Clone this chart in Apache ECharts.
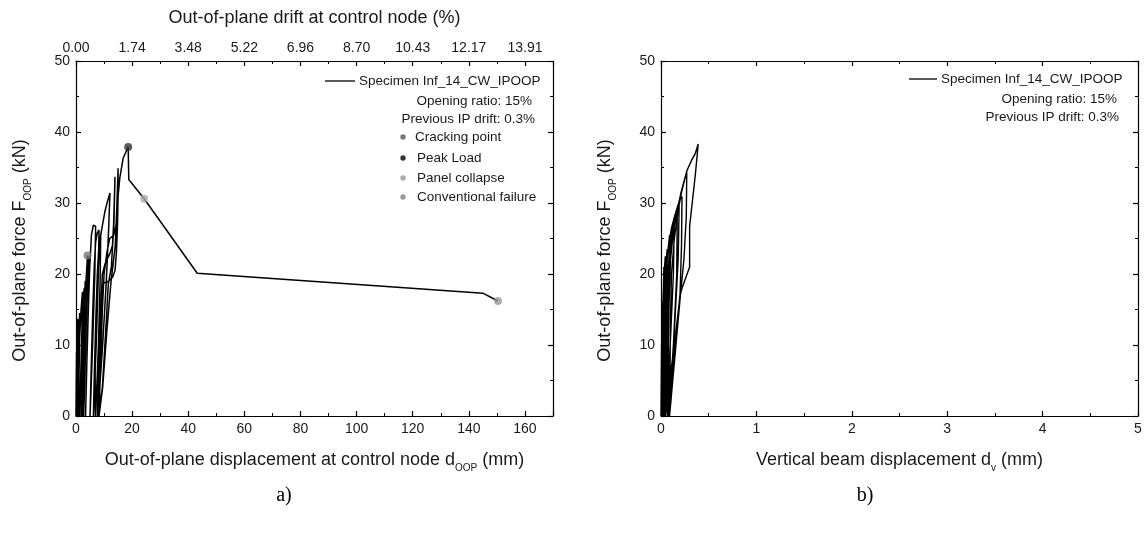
<!DOCTYPE html>
<html>
<head>
<meta charset="utf-8">
<script src="https://cdn.jsdelivr.net/npm/echarts@6/dist/echarts.min.js"></script>
<style>
html,body{margin:0;padding:0;background:#fff;}
#chart{width:1146px;height:534px;}
</style>
</head>
<body>
<div id="chart"></div>
<script>
// ---------- DATA ----------
// a) Out-of-plane force vs out-of-plane displacement (mm, kN), one continuous path
const oopHysteresis = [
  [0,0],[0.1,5],[0.2,9],[0.15,4],[0.1,0],
  [0.2,5],[0.35,10],[0.45,12],[0.35,5],[0.25,0],
  [0.2,4],[0.4,9],[0.6,13.7],[0.5,8],[0.4,3],[0.3,0],
  [0.5,5],[0.7,10],[0.9,13.5],[0.8,8],[0.6,2],[0.5,0],
  [0.7,6],[1.0,11],[1.3,14.5],[1.2,9],[1.0,3],[0.8,0],
  [0.9,6],[1.3,11],[1.8,15],[2.3,17.5],[2.1,12],[1.7,6],[1.3,0],
  [1.7,6],[2.1,11],[2.5,15],[2.9,18],[2.7,12],[2.2,5],[1.9,0],
  [2.1,6],[2.5,12],[3.0,16.5],[3.3,19],[3.1,13],[2.7,6],[2.3,0],
  [2.4,7],[2.9,13],[3.5,18.5],[4.1,22.6],[3.9,17],[3.4,9],[2.9,2],[2.7,0],
  [3.1,7],[3.6,14],[4.1,19.5],[4.6,22.5],[4.4,16],[3.9,8],[3.4,0],
  [3.9,8],[4.4,15],[4.9,21],[5.5,25.5],[6.2,26.9],[7.0,26.7],[6.7,20],[6.0,11],[5.3,3],[5.0,0],
  [5.5,8],[6.0,15],[6.5,21],[7.0,24.5],[7.6,25.8],[8.2,26.2],[7.9,19],[7.2,10],[6.4,2],[6.2,0],
  [6.6,7],[7.1,14],[7.6,20],[8.1,23.5],[8.8,25.5],[8.6,19],[8.0,10],[7.2,2],[6.9,0],
  [6.8,8],[7.4,15],[8.0,21],[8.6,25],[9.4,26.8],[10.3,28.8],[11.2,30.2],[12.1,31.4],[11.6,26],[10.8,19],[9.5,10],[8.1,2],[7.6,0],
  [8.2,8],[8.8,15],[9.4,20],[10.4,21.5],[12.0,22.8],[13.0,24.0],[13.4,27],[13.7,31],[13.9,33.7],[13.5,27],[12.6,21],[11.5,18.5],[10.6,12],[9.4,4],[8.0,0],
  [8.6,8],[9.2,15],[9.8,18.7],[11.5,19.0],[13.0,19.5],[13.9,20.5],[14.4,23],[14.8,27],[15.0,31],[15.0,34.9],[14.6,30],[14.0,24],[12.5,19],[11,12],[9.5,4],[8.2,0],
  [8.8,8],[9.4,15],[10.0,20],[11.0,23],[12.0,25],[13.5,25.5],[14.3,27],[14.8,30],[15.6,33.5],[16.8,36.3],[18.6,37.9],
  [18.8,33.3],[24.3,30.6],[43.2,20.1],[145,17.3],[150.4,16.2]
];
const crackingPoint = [[4.1,22.6]];
const peakLoad = [[18.6,37.9]];
const panelCollapse = [[24.3,30.6]];
const conventionalFailure = [[150.4,16.2]];

// b) Out-of-plane force vs vertical beam displacement (mm, kN)
const vertHysteresis = [
  [0,0],[0.003,5],[0.006,10],[0.004,4],[0.002,0],
  [0.004,6],[0.008,12],[0.01,16],[0.008,9],[0.005,0],
  [0.005,6],[0.01,12],[0.015,14],[0.012,8],[0.008,0],
  [0.012,8],[0.018,15],[0.025,18],[0.02,10],[0.015,2],[0.012,0],
  [0.015,8],[0.02,15],[0.028,19.5],[0.03,21],[0.026,12],[0.02,4],[0.016,0],
  [0.018,9],[0.025,16],[0.032,20],[0.045,22.5],[0.04,15],[0.03,6],[0.022,0],
  [0.028,9],[0.035,16],[0.045,20.5],[0.065,23.5],[0.06,14],[0.045,4],[0.035,0],
  [0.03,8],[0.037,15],[0.05,20.5],[0.07,23],[0.09,25.5],[0.085,17],[0.065,7],[0.045,0],
  [0.04,9],[0.05,17],[0.06,21],[0.08,24],[0.11,26.5],[0.14,28],[0.13,20],[0.1,11],[0.07,3],[0.05,0],
  [0.055,9],[0.065,17],[0.08,21.5],[0.1,24.5],[0.13,27],[0.17,28.5],[0.165,20],[0.13,10],[0.09,2],[0.07,0],
  [0.058,8],[0.068,16],[0.085,22],[0.11,25.5],[0.14,28],[0.18,29.8],[0.19,29.5],[0.18,22],[0.14,12],[0.1,3],[0.08,0],
  [0.065,8],[0.075,16],[0.09,21],[0.12,25.5],[0.16,28.5],[0.2,30.5],[0.22,30.9],[0.215,24],[0.2,17.3],[0.15,10],[0.11,4],[0.09,0],
  [0.075,8],[0.085,16],[0.1,22],[0.13,26],[0.17,29],[0.21,31.5],[0.25,33.5],[0.27,34.4],[0.265,28],[0.24,22],[0.2,16.5],[0.15,9],[0.11,3],[0.09,0],
  [0.095,7],[0.1,14],[0.11,20],[0.14,25],[0.18,29],[0.22,31.8],[0.27,34.5],[0.32,36],[0.36,37],[0.39,38.3],
  [0.36,34],[0.30,26.7],[0.30,21],[0.22,18],[0.2,17],[0.14,10],[0.1,6],[0.08,0]
];

// tick labels of the top (drift) axis, one per 20 mm
const driftTickLabels = ['0.00','1.74','3.48','5.22','6.96','8.70','10.43','12.17','13.91'];

// legend texts
const specimenName = 'Specimen Inf_14_CW_IPOOP';
const infoLines = ['Opening ratio: 15%', 'Previous IP drift: 0.3%'];
const markerNames = ['Cracking point','Peak Load','Panel collapse','Conventional failure'];
const markerColors = ['#777777','#333333','#aaaaaa','#999999'];

// ---------- CHART ----------
const FONT = 'Liberation Sans, Arial, sans-serif';
const TXT = '#1a1a1a';
const chart = echarts.init(document.getElementById('chart'), null, {renderer:'canvas'});

const subRich = {sub:{fontSize:10, fontFamily:FONT, color:TXT, verticalAlign:'bottom', lineHeight:26}};

function baseAxis(extra){
  return Object.assign({
    type:'value',
    axisLine:{show:true, onZero:false, lineStyle:{color:'#000', width:1.2}},
    axisTick:{show:true, inside:true, length:5, lineStyle:{color:'#000', width:1.2}},
    minorTick:{show:true, splitNumber:2, length:3, lineStyle:{color:'#000', width:1}},
    splitLine:{show:false},
    axisLabel:{show:true, color:TXT, fontSize:14, fontFamily:FONT, margin:6},
    nameLocation:'middle',
    nameTextStyle:{color:TXT, fontSize:18, fontFamily:FONT, lineHeight:26, rich:subRich}
  }, extra);
}

const xAxes = [
  baseAxis({gridIndex:0, position:'bottom', min:0, max:170, interval:20,
    axisLabel:{color:TXT, fontSize:14, fontFamily:FONT, margin:6, showMaxLabel:false},
    name:'Out-of-plane displacement at control node d{sub|OOP} (mm)', nameGap:31}),
  baseAxis({gridIndex:0, position:'top', min:0, max:170, interval:20,
    axisLabel:{color:TXT, fontSize:14, fontFamily:FONT, margin:6, showMaxLabel:false,
      formatter:function(v){ const i = Math.round(v/20); return (Math.abs(v - i*20) < 1e-6 && driftTickLabels[i]) ? driftTickLabels[i] : ''; }},
    name:'Out-of-plane drift at control node (%)', nameGap:34,
    nameTextStyle:{color:TXT, fontSize:18, fontFamily:FONT}}),
  baseAxis({gridIndex:1, position:'bottom', min:0, max:5, interval:1,
    name:'Vertical beam displacement d{sub|v} (mm)', nameGap:31}),
  baseAxis({gridIndex:1, position:'top', min:0, max:5, interval:1, axisLabel:{show:false}})
];
const yNameStyle = {color:TXT, fontSize:18, fontFamily:FONT, lineHeight:26, rich:subRich, padding:[0,24,0,0]};
const yAxes = [
  baseAxis({gridIndex:0, position:'left', min:0, max:50, interval:10,
    name:'Out-of-plane force F{sub|OOP} (kN)', nameGap:43, nameTextStyle:yNameStyle}),
  baseAxis({gridIndex:0, position:'right', min:0, max:50, interval:10, axisLabel:{show:false}}),
  baseAxis({gridIndex:1, position:'left', min:0, max:50, interval:10,
    name:'Out-of-plane force F{sub|OOP} (kN)', nameGap:43, nameTextStyle:yNameStyle}),
  baseAxis({gridIndex:1, position:'right', min:0, max:50, interval:10, axisLabel:{show:false}})
];

function markerSeries(data, color){
  return {type:'scatter', xAxisIndex:0, yAxisIndex:0, data:data, symbol:'circle', symbolSize:8,
    itemStyle:{color:color}, z:5, silent:true};
}

// legend graphics
const LFONT = '13.5px ' + FONT;
const graphics = [];
function addLegend(lineX0, lineX1, lineY, infoRights, infoYs){
  graphics.push({type:'line', shape:{x1:lineX0, y1:lineY, x2:lineX1, y2:lineY}, style:{stroke:'#000', lineWidth:1.3}});
  graphics.push({type:'text', x:lineX1+4, y:lineY, style:{text:specimenName, fill:TXT, font:LFONT, textAlign:'left', textVerticalAlign:'middle'}});
  infoLines.forEach(function(t,i){
    graphics.push({type:'text', x:infoRights[i], y:infoYs[i], style:{text:t, fill:TXT, font:LFONT, textAlign:'right', textVerticalAlign:'middle'}});
  });
}
addLegend(325, 355, 81, [532, 535], [101, 119]);
addLegend(909, 937, 79, [1117, 1119], [99, 117]);
const markerYs = [137, 158, 178, 197];
const markerTextX = [415, 417, 417, 417];
markerNames.forEach(function(n,i){
  graphics.push({type:'circle', shape:{cx:403, cy:markerYs[i], r:2.7}, style:{fill:markerColors[i]}});
  graphics.push({type:'text', x:markerTextX[i], y:markerYs[i], style:{text:n, fill:TXT, font:LFONT, textAlign:'left', textVerticalAlign:'middle'}});
});
graphics.push({type:'text', x:284, y:496, style:{text:'a)', fill:'#000', font:'20px Liberation Serif, Times New Roman, serif', textAlign:'center', textVerticalAlign:'middle'}});
graphics.push({type:'text', x:865, y:496, style:{text:'b)', fill:'#000', font:'20px Liberation Serif, Times New Roman, serif', textAlign:'center', textVerticalAlign:'middle'}});

chart.setOption({
  backgroundColor:'#fff',
  animation:false,
  textStyle:{fontFamily:FONT},
  grid:[
    {left:76, top:61, width:477, height:355, containLabel:false, outerBoundsMode:'none'},
    {left:661, top:61, width:477, height:355, containLabel:false, outerBoundsMode:'none'}
  ],
  xAxis:xAxes,
  yAxis:yAxes,
  series:[
    {type:'line', xAxisIndex:0, yAxisIndex:0, data:oopHysteresis, showSymbol:false, symbol:'none',
      lineStyle:{color:'#000', width:1.5}, z:3, silent:true},
    markerSeries(crackingPoint, markerColors[0]),
    markerSeries(peakLoad, markerColors[1]),
    markerSeries(panelCollapse, markerColors[2]),
    markerSeries(conventionalFailure, markerColors[3]),
    {type:'line', xAxisIndex:2, yAxisIndex:2, data:vertHysteresis, showSymbol:false, symbol:'none',
      lineStyle:{color:'#000', width:1.4}, z:3, silent:true}
  ],
  graphic:graphics
});
</script>
</body>
</html>
